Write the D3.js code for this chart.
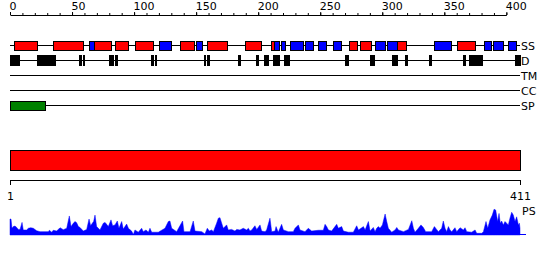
<!DOCTYPE html>
<html>
<head>
<meta charset="utf-8">
<script src="https://cdn.jsdelivr.net/npm/d3@7"></script>
<style>
  body { margin: 0; background: #fff; }
  svg { display: block; font-family: "DejaVu Sans", sans-serif; }
  text { font-size: 11px; fill: #000; }
</style>
</head>
<body>
<svg id="my-svg" width="550" height="260"></svg>
<script>
// sequence length
const seqLength = 411;

// secondary structure, [from, to] in residues
const ssHelix = [[3,22],[35,59],[68,81],[85,95],[101,115],[137,148],[159,175],[189,202],[210,213],
                 [273,280],[282,291],[312,319],[360,375]];
const ssStrand = [[64,68],[120,130],[150,155],[213,217],[218,222],[226,236],[238,244],[248,255],[260,267],
                  [294,302],[304,312],[342,355],[382,388],[389,397],[401,408]];

// disorder
const disorder = [[0,7],[22,36],[56,57],[59,60],[80,83],[85,86],[114,115],[117,118],[156,157],[159,160],
                  [184,185],[198,200],[205,208],[212,215],[216,217],[221,225],[270,272],[290,293],[308,310],
                  [311,312],[318,320],[338,339],[365,367],[370,380],[407,411]];

const transmem = [];
const coiledCoil = [];
const signalPep = [[0,28]];
const domains = [[0,411]];

const trackNames = ["SS", "D", "TM", "CC", "SP"];
const topTicks = d3.range(0, 401, 10);
const bottomTicks = [1, 411];

// PS profile (residue, score)
const psPos = [0,0.8,1.6,2.7,4,5.4,6.7,8.1,9.7,10.7,13.4,14.8,16.7,18.8,21.5,24.2,30.9,31.7,33.6,34.9,37.6,40.3,43,45.7,
  47.8,49.2,51,52.4,53.7,55.1,56.4,59.1,61.8,63.7,65,66.3,67.4,68.5,69.8,71.2,72.5,75.2,76.6,77.9,79.2,81.4,82.7,84.6,
  86.5,87.8,90,91.3,94,95.4,98,99.4,100.7,103.4,106.1,107.4,109.6,111.5,112.8,114.2,119.5,124.9,127.6,128.9,130.3,
  134.3,139.1,140.2,145.1,147.7,149.1,154.5,157.1,159,160.6,162.5,163.9,166.5,167.9,169.2,170.6,171.9,174.6,175.9,
  178.6,181.3,182.7,185.3,188,190.7,192.1,193.4,194.8,197.4,198.8,201.5,202.8,205.5,206.8,209.5,210.9,213.6,214.4,
  216.2,218.9,220.3,224.3,228.3,229.7,232.4,233.7,237.7,240.4,243.1,248.5,252.5,253.9,255.2,256.6,259.2,261.9,263.3,
  264.6,267.3,268.7,272.7,276.7,279.4,280.8,282.9,284.8,286.2,288.8,290.2,292.8,294.2,295.5,296.9,298.2,300.1,302.3,
  303.6,304.9,307.6,310.3,311.7,313,317.1,321.1,323.8,325.1,326.4,329.1,331.2,333.1,335,339.8,342,343.8,345.2,347.9,
  349.2,350.6,351.9,353.3,354.6,356,358.6,360,362.7,365.4,366.7,368.1,372.1,374.8,376.1,380.2,381.5,383.6,385,386.8,
  388.7,390.1,391.4,393,394.1,395.1,396.2,397.6,398.9,400.2,401.6,402.9,404.3,405.6,407,408.3,409.7,410.5,411];
const psVal = [0.57,0.57,0.24,0.30,0.32,0.27,0.20,0.20,0.45,0.18,0.18,0.24,0.26,0.24,0.15,0.12,0.12,0.17,0.10,0.17,0.14,
  0.26,0.19,0.24,0.68,0.30,0.42,0.48,0.44,0.30,0.27,0.14,0.20,0.57,0.33,0.42,0.48,0.71,0.30,0.24,0.18,0.42,0.45,0.38,
  0.30,0.54,0.33,0.36,0.50,0.24,0.48,0.21,0.39,0.24,0.14,0.02,0.18,0.10,0.24,0.12,0.18,0.10,0.24,0.10,0.10,0.24,0.48,
  0.50,0.24,0.12,0.50,0.12,0.12,0.50,0.14,0.12,0.04,0.24,0.14,0.18,0.12,0.42,0.60,0.62,0.42,0.24,0.36,0.18,0.20,0.14,
  0.20,0.18,0.24,0.18,0.24,0.14,0.18,0.33,0.20,0.36,0.14,0.12,0.18,0.60,0.12,0.14,0.30,0.10,0.38,0.18,0.12,0.12,0.24,
  0.36,0.18,0.12,0.24,0.14,0.17,0.17,0.38,0.30,0.18,0.14,0.30,0.38,0.24,0.30,0.14,0.10,0.10,0.33,0.18,0.24,0.30,0.18,
  0.48,0.14,0.27,0.12,0.24,0.30,0.24,0.36,0.75,0.48,0.24,0.10,0.18,0.27,0.18,0.12,0.20,0.51,0.24,0.10,0.24,0.36,0.27,
  0.12,0.12,0.30,0.20,0.12,0.24,0.50,0.24,0.12,0.30,0.18,0.12,0.26,0.12,0.26,0.18,0.26,0.12,0.10,0.18,0.06,0.06,0.12,
  0.48,0.24,0.54,0.71,0.92,0.89,0.48,0.77,0.42,0.50,0.36,0.48,0.42,0.36,0.60,0.81,0.71,0.48,0.65,0.36,0.42,0.24];

const svg = d3.select("#my-svg");

const x = d3.scaleLinear().domain([0, seqLength]).range([10, 520]),
      xTop = x.copy().domain([0, 400]).range([x(0), x(400)]),
      xBottom = d3.scaleLinear().domain([1, seqLength]).range([x(0), x(seqLength)]),
      yTrack = d3.scalePoint().domain(trackNames).range([45, 105]),
      yPS = d3.scaleLinear().domain([0, 1]).range([235, 207]);

// top ruler: minor ticks then major ticks with labels
svg.append("g")
    .attr("transform", "translate(0,15)")
    .call(d3.axisTop(xTop).tickValues(topTicks).tickSize(2).tickSizeOuter(0).tickFormat(""))
    .call(g => g.select(".domain").attr("stroke", "#000"));

svg.append("g")
    .attr("transform", "translate(0,15)")
    .call(d3.axisTop(xTop).tickValues(topTicks.filter(d => d % 50 === 0)).tickSize(3).tickPadding(2).tickSizeOuter(0))
    .call(g => g.select(".domain").remove())
    .call(g => g.selectAll("text")
        .attr("text-anchor", "start")
        .attr("x", -1)
        .style("font-family", "DejaVu Sans")
        .style("font-size", "11px"));

// track lines + labels
const tracks = svg.append("g").attr("shape-rendering", "crispEdges");

tracks.selectAll("line")
    .data(trackNames)
    .join("line")
    .attr("x1", x(0))
    .attr("x2", x(seqLength))
    .attr("y1", d => yTrack(d) + 0.5)
    .attr("y2", d => yTrack(d) + 0.5)
    .attr("stroke", "#000");

svg.selectAll("text.track")
    .data(trackNames)
    .join("text")
    .attr("class", "track")
    .attr("x", x(seqLength) + 1)
    .attr("y", d => yTrack(d) + 4.5)
    .text(d => d);

function drawBoxes(data, track, fill, h) {
    tracks.append("g")
        .selectAll("rect")
        .data(data)
        .join("rect")
        .attr("x", d => x(d[0]) + 0.5)
        .attr("y", yTrack(track) - h / 2 + 0.5)
        .attr("width", d => Math.max(1, x(d[1]) - x(d[0])))
        .attr("height", h)
        .attr("fill", fill)
        .attr("stroke", "#000");
}

drawBoxes(ssHelix, "SS", "#ff0000", 9);
drawBoxes(ssStrand, "SS", "#0000ff", 9);
drawBoxes(disorder, "D", "#000", 10);
drawBoxes(transmem, "TM", "#ffff00", 9);
drawBoxes(coiledCoil, "CC", "#00ffff", 9);
drawBoxes(signalPep, "SP", "#008000", 9);

// domain bar
tracks.append("g")
    .selectAll("rect")
    .data(domains)
    .join("rect")
    .attr("x", d => x(d[0]) + 0.5)
    .attr("y", 150.5)
    .attr("width", d => x(d[1]) - x(d[0]))
    .attr("height", 20)
    .attr("fill", "#ff0000")
    .attr("stroke", "#000");

// bottom ruler
svg.append("g")
    .attr("transform", "translate(0,180)")
    .call(d3.axisBottom(xBottom).tickValues(bottomTicks).tickSize(5).tickPadding(7).tickSizeOuter(0))
    .call(g => g.selectAll("text")
        .style("font-family", "DejaVu Sans")
        .style("font-size", "11px"));

// PS profile
const psData = psPos.map((p, i) => ({pos: p, val: psVal[i]}));

svg.append("path")
    .datum(psData)
    .attr("fill", "#0000ff")
    .attr("stroke", "#0000ff")
    .attr("stroke-width", 0.8)
    .attr("stroke-opacity", 0.6)
    .attr("d", d3.area()
        .x(d => x(d.pos))
        .y0(yPS(0))
        .y1(d => yPS(d.val)));

svg.append("line")
    .attr("x1", x(0))
    .attr("x2", x(seqLength) + 6)
    .attr("y1", yPS(0) - 0.5)
    .attr("y2", yPS(0) - 0.5)
    .attr("stroke", "#0000ff");

svg.append("text")
    .attr("x", x(seqLength) + 2)
    .attr("y", 215)
    .text("PS");
</script>
</body>
</html>
